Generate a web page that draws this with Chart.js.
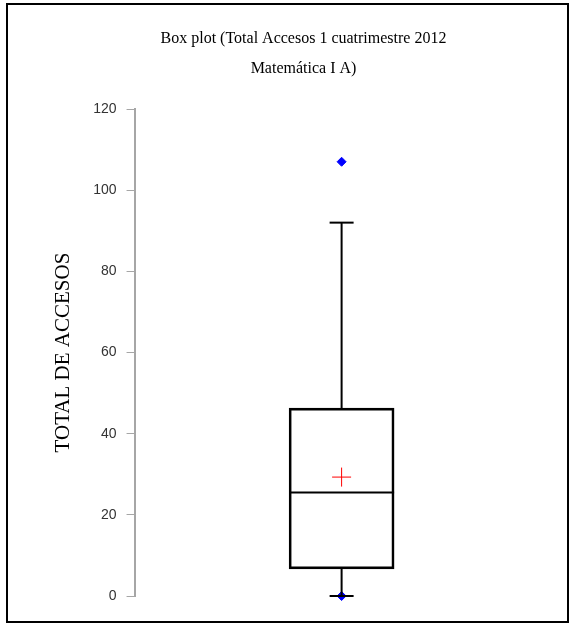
<!DOCTYPE html>
<html>
<head>
<meta charset="utf-8">
<script src="https://cdn.jsdelivr.net/npm/chart.js@4.4.0/dist/chart.umd.min.js"></script>
<style>
  html, body { margin: 0; padding: 0; background: #fff; }
  #wrap { position: absolute; left: 6px; top: 3px; width: 559px; height: 616px; border: 2px solid #000; background: #fff; }
  canvas { display: block; }
</style>
</head>
<body>
<div id="wrap"><canvas id="boxChart" width="559" height="616"></canvas></div>
<script>
// box plot summary
const category = 'Total Accesos';
const whiskerLow = 0;
const q1 = 6.7;
const median = 25.5;
const q3 = 46.3;
const whiskerHigh = 92;
const mean = 29.3;
const outliers = [107, 0];
const yTicks = [0, 20, 40, 60, 80, 100, 120];

const titleLines = ['Box plot (Total Accesos 1 cuatrimestre 2012', 'Matemática I A)'];
const yTitle = 'TOTAL DE ACCESOS';

const X = 1; // position of the single box on the hidden x axis

const ctx = document.getElementById('boxChart').getContext('2d');
new Chart(ctx, {
  data: {
    datasets: [
      {
        type: 'bar',
        label: category,
        data: [{ x: X, y: [q1, q3] }],
        backgroundColor: 'rgba(255,255,255,0)',
        borderColor: '#000',
        borderWidth: 2,
        borderSkipped: false,
        barThickness: 105,
        order: 3
      },
      {
        type: 'line',
        label: 'upper whisker',
        data: [{ x: X, y: q3 }, { x: X, y: whiskerHigh }],
        borderColor: '#000',
        borderWidth: 2,
        pointRadius: 0,
        clip: false
      },
      {
        type: 'line',
        label: 'lower whisker',
        data: [{ x: X, y: whiskerLow }, { x: X, y: q1 }],
        borderColor: '#000',
        borderWidth: 2,
        pointRadius: 0,
        clip: false
      },
      {
        type: 'scatter',
        label: 'caps',
        data: [{ x: X, y: whiskerLow }, { x: X, y: whiskerHigh }],
        pointStyle: 'line',
        pointRadius: 12,
        borderColor: '#000',
        borderWidth: 2,
        clip: false
      },
      {
        type: 'scatter',
        label: 'median',
        data: [{ x: X, y: median }],
        pointStyle: 'line',
        pointRadius: 52.5,
        borderColor: '#000',
        borderWidth: 2,
        clip: false
      },
      {
        type: 'scatter',
        label: 'mean',
        data: [{ x: X, y: mean }],
        pointStyle: 'cross',
        pointRadius: 9.5,
        borderColor: '#ff0000',
        borderWidth: 1,
        clip: false
      },
      {
        type: 'scatter',
        label: 'outliers',
        data: outliers.map(v => ({ x: X, y: v })),
        pointStyle: 'rectRot',
        pointRadius: 4.5,
        backgroundColor: '#0000ff',
        borderColor: '#0000ff',
        borderWidth: 1,
        clip: false,
        order: 0
      }
    ]
  },
  options: {
    responsive: false,
    animation: false,
    layout: { autoPadding: false, padding: { left: 40, right: 8, top: 0, bottom: 25 } },
    plugins: {
      legend: { display: false },
      tooltip: { enabled: false },
      title: {
        display: true,
        text: titleLines,
        color: '#000',
        font: { family: 'Liberation Serif', size: 16, weight: 'normal', lineHeight: 1.875 },
        padding: { top: 19, bottom: 25 }
      }
    },
    scales: {
      x: {
        type: 'linear',
        min: 0,
        max: 2.05,
        offset: false,
        display: false,
        ticks: { display: false },
        grid: { display: false }
      },
      y: {
        min: 0,
        max: 120,
        afterBuildTicks: axis => { axis.ticks = yTicks.map(v => ({ value: v })); },
        grid: { drawOnChartArea: false, color: '#a6a6a6', tickLength: 8 },
        border: { color: '#a6a6a6', width: 2 },
        ticks: { color: '#333', padding: 10, font: { family: 'Liberation Sans', size: 14 } },
        title: {
          display: true,
          text: yTitle,
          color: '#000',
          font: { family: 'Liberation Serif', size: 21, lineHeight: 1.2 },
          padding: { top: 3, bottom: 7 }
        }
      }
    }
  }
});
</script>
</body>
</html>
